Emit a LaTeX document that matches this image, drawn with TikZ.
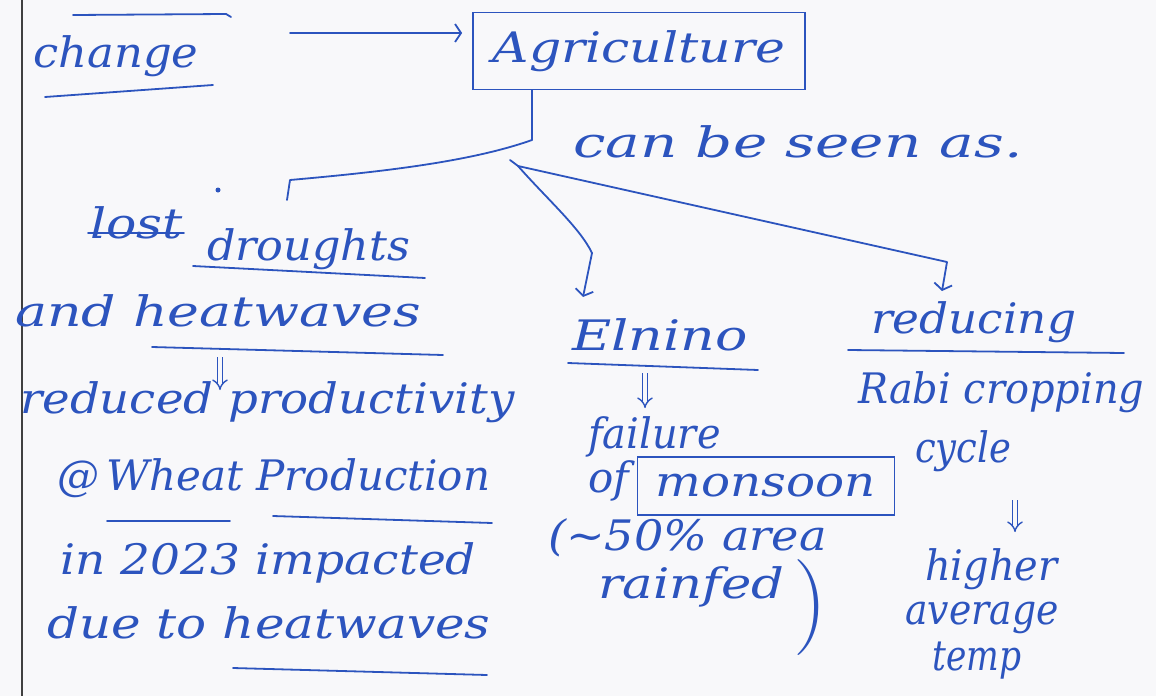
\documentclass[tikz,border=0pt]{standalone}
\usepackage{graphicx}
\usepackage{fontspec}
\setmainfont{DejaVu Serif}
\newfontfamily\lmfont{Latin Modern Roman}
\usetikzlibrary{arrows.meta}
\definecolor{ink}{RGB}{44,84,190}
\definecolor{paper}{RGB}{248,248,250}
\newcommand\sx[2]{\scalebox{#1}[1]{#2}}
\begin{document}
\begin{tikzpicture}[x=1pt,y=-1pt,
  hw/.style={font=\fontsize{42}{48}\selectfont\itshape, text=ink, inner sep=0pt, anchor=base west},
  inkline/.style={draw=ink, line width=1.8pt, line cap=round, line join=round},
  arr/.style={inkline, -{Straight Barb[length=6pt,width=18pt,line width=1.8pt]}},
  dblarr/.style={draw=ink, line width=1.4pt, double=paper, double distance=4pt, -{Implies[length=6pt]}},
  boxed/.style={draw=ink, line width=1.8pt, inner sep=0pt, text=ink, font=\fontsize{42}{48}\selectfont\itshape}]
\fill[paper] (0,0) rectangle (1156,696);
\useasboundingbox (0,0) rectangle (1156,696);
% margin line
\draw[line width=1.6pt, black!75] (22,0) -- (22,696);

% top row
\node[hw] (change) at (33,67) {\sx{1.07}{change}};
\draw[inkline] (73,15) -- (226,14) -- (231,17);
\draw[inkline] (45,97) -- (213,85);
\node[boxed, minimum width=332pt, minimum height=77pt] (agri) at (639,51) {\sx{1.2}{Agriculture}};
\coordinate (a0) at (290,33);
\draw[arr, shorten >=10pt] (a0) -- (agri.west |- a0);

\node[hw] (can) at (573,157) {\sx{1.38}{can be seen as.}};

% branches
\coordinate (br) at (532,140);
\coordinate (br2) at (518,166);
\coordinate (lhook) at (290,180);
\coordinate (elTip) at (583,297);
\coordinate (rdTip) at (942,291);
\draw[inkline] (agri.south -| br) -- (br);
\draw[inkline] (br) .. controls (470,162) and (380,172) .. (lhook) -- ++(-3,20);
\draw[inkline] (510,160) -- (br2);
\draw[arr] (br2) .. controls (548,200) and (580,228) .. (592,253) -- (elTip);
\draw[arr] (br2) -- (947,262) -- (rdTip);

% left column
\node[hw] (lost) at (90,238) {\sx{1.2}{lost}};
\draw[inkline] (88,233) -- (184,233);
\fill[ink] (218,190) circle (2.5);
\node[hw] (drought) at (207,260) {\sx{1.06}{droughts}};
\draw[inkline] (193,266) -- (425,278);
\node[hw] (andheat) at (15,326) {\sx{1.28}{and heatwaves}};
\draw[inkline] (152,347) -- (443,355);
\coordinate (d1) at (220,357);
\coordinate (d1e) at (220,390);
\draw[dblarr] (d1) -- (d1e);
\node[hw] (reduced) at (20,413) {\sx{1.11}{reduced productivity}};
\node[hw] (wheat) at (57,490) {\sx{1.0}{@\,Wheat Production}};
\draw[inkline] (107,521) -- (230,521);
\draw[inkline] (273,516) -- (492,523);
\node[hw] (in2023) at (60,574) {\sx{1.12}{in 2023 impacted}};
\node[hw] (due) at (47,638) {\sx{1.19}{due to heatwaves}};
\draw[inkline] (233,668) -- (487,675);

% middle column
\node[hw] (elnino) at (572,350) {\sx{1.28}{Elnino}};
\draw[inkline] (568,363) -- (758,370);
\coordinate (d2) at (645,373);
\coordinate (d2e) at (645,408);
\draw[dblarr] (d2) -- (d2e);
\node[hw] (failure) at (588,448) {\sx{0.95}{failure}};
\node[hw] (of) at (588,492) {of};
\node[boxed, minimum width=257pt, minimum height=58pt] (monsoon) at (766,486) {\sx{1.15}{monsoon}};
\node[hw] (area) at (548,550) {\sx{1.1}{(\textasciitilde 50\% area}};
\node[hw] (rainfed) at (598,598) {\sx{1.22}{rainfed}};
\node[text=ink, inner sep=0pt, font=\lmfont\fontsize{96}{96}\selectfont] (paren) at (810,608) {)};

% right column
\node[hw] (reducing) at (871,333) {\sx{1.08}{reducing}};
\draw[inkline] (848,350) -- (1124,353);
\node[hw] (rabi) at (858,403) {\sx{0.95}{Rabi cropping}};
\node[hw] (cycle) at (915,462) {\sx{0.88}{cycle}};
\coordinate (d3) at (1015,500);
\coordinate (d3e) at (1015,532);
\draw[dblarr] (d3) -- (d3e);
\node[hw] (higher) at (925,580) {\sx{0.95}{higher}};
\node[hw] (average) at (905,624) {\sx{0.9}{average}};
\node[hw] (temp) at (932,670) {\sx{0.82}{temp}};
\end{tikzpicture}
\end{document}
